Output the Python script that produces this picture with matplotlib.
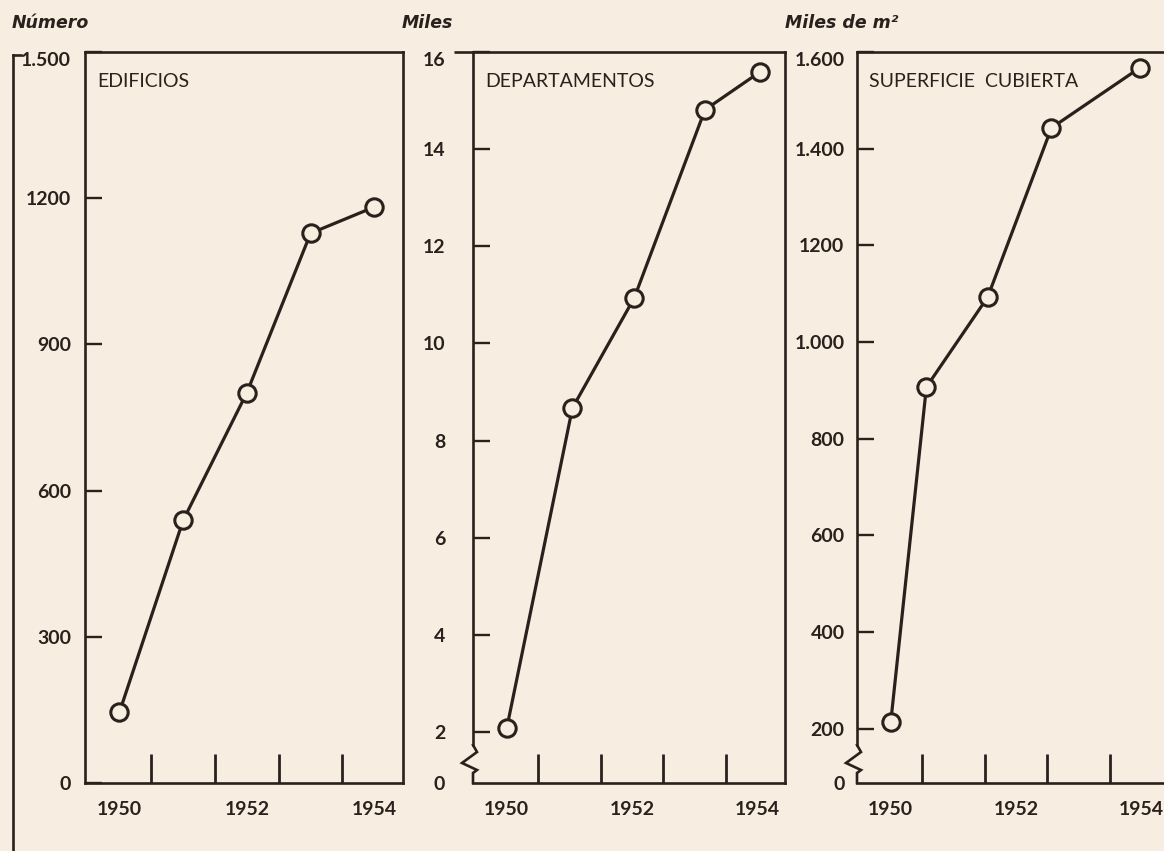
import matplotlib.pyplot as plt

# colours of the scanned page
BG = '#f7ede0'
INK = '#2a211d'

# values
years = [1950, 1952, 1954]
half_years = [1950.5, 1951.5, 1952.5, 1953.5]

edificios_x = [1950, 1951, 1952, 1953, 1954]
edificios = [145, 539, 801, 1128, 1182]
edificios_ticks = [0, 300, 600, 900, 1200, 1500]
edificios_labels = ['0', '300', '600', '900', '1200', '1.500']

deptos_x = [1950, 1951.05, 1952.04, 1953.17, 1954.05]
deptos = [2.08, 8.67, 10.94, 14.81, 15.59]
deptos_ticks = [0.95, 2, 4, 6, 8, 10, 12, 14, 16]
deptos_labels = ['0', '2', '4', '6', '8', '10', '12', '14', '16']

superficie_x = [1950, 1950.57, 1951.55, 1952.57, 1953.98]
superficie = [214, 907, 1093, 1443, 1567]
superficie_ticks = [88, 200, 400, 600, 800, 1000, 1200, 1400, 1600]
superficie_labels = ['0', '200', '400', '600', '800', '1.000', '1200', '1.400', '1.600']

W, H = 1164, 851
fig = plt.figure(figsize=(W / 100, H / 100), dpi=100, facecolor=BG)

# axes boxes in pixels: left, right (top 52, bottom 783)
boxes = [(85, 403), (473, 785), (857, 1169)]
top_px, bot_px = 52, 783


def make_axes(left, right):
    return fig.add_axes([left / W, 1 - bot_px / H, (right - left) / W, (bot_px - top_px) / H])


def style(ax, x, y, ticks, labels, ylim, title, ypad, top_tick=0.0, broken=False):
    ax.set_facecolor('none')
    ax.plot(x, y, color=INK, lw=2.3, marker='o', ms=12.5, mfc=BG, mec=INK, mew=2.2,
            solid_capstyle='round', zorder=3, clip_on=False)
    ax.set_xlim(1949.46, 1954.45)
    ax.set_ylim(*ylim)
    for s in ax.spines.values():
        s.set_color(INK)
        s.set_linewidth(1.9)
    ax.set_xticks(years)
    ax.set_xticklabels([str(v) for v in years])
    ax.set_xticks(half_years, minor=True)
    ax.tick_params(axis='x', which='major', length=0, pad=13, labelsize=14, colors=INK)
    ax.tick_params(axis='x', which='minor', direction='in', length=21, width=2.0, color=INK)
    ax.set_yticks(ticks)
    ax.set_yticklabels(labels)
    ax.tick_params(axis='y', which='major', direction='in', length=12, width=1.7,
                   pad=ypad, labelsize=14, colors=INK)
    for lab in ax.get_xticklabels() + ax.get_yticklabels():
        lab.set_fontfamily('Lato')
        lab.set_fontweight('bold')
    # the top value sits a little below the frame line
    top_lab = ax.get_yticklabels()[-1]
    top_lab.set_va('top')
    ax.text(0.04, 0.959, title, transform=ax.transAxes, ha='left', va='center',
            fontsize=14, family='Lato', color=INK)
    if top_tick:
        ax.plot([-top_tick, 0], [1, 1], transform=ax.transAxes, color=INK, lw=1.9,
                clip_on=False, solid_capstyle='butt')

    if broken:
        w = (ax.get_position().width * W)
        h = (bot_px - top_px)
        lo, hi = ylim
        ax.spines['left'].set_bounds(lo + (hi - lo) * 38 / h, hi)
        pts = [(0, 38), (4, 31), (-11, 20), (4, 13), (0, 10), (0, 0)]
        ax.plot([p[0] / w for p in pts], [p[1] / h for p in pts], transform=ax.transAxes,
                color=INK, lw=1.9, clip_on=False, solid_joinstyle='miter')
        ax.yaxis.get_major_ticks()[0].tick1line.set_visible(False)


ax1 = make_axes(*boxes[0])
style(ax1, edificios_x, edificios, edificios_ticks, edificios_labels, (0, 1500), 'EDIFICIOS', 10)

ax2 = make_axes(*boxes[1])
style(ax2, deptos_x, deptos, deptos_ticks, deptos_labels, (0.95, 16), 'DEPARTAMENTOS', 20,
      top_tick=0.06, broken=True)

ax3 = make_axes(*boxes[2])
style(ax3, superficie_x, superficie, superficie_ticks, superficie_labels, (88, 1600),
      'SUPERFICIE  CUBIERTA', 9, broken=True)

# unit labels above each scale
units = [('Número', 12), ('Miles', 402), ('Miles de m²', 785)]
for txt, xpx in units:
    fig.text(xpx / W, 1 - 23 / H, txt, ha='left', va='center', fontsize=12.5,
             family='DejaVu Sans', weight='bold', style='italic', color=INK)

# bracket running down the left edge of the page
fig.add_artist(plt.Line2D([13 / W, 13 / W], [1 - 55 / H, 0], transform=fig.transFigure,
                          color=INK, lw=1.9))
fig.add_artist(plt.Line2D([13 / W, 21 / W], [1 - 55 / H, 1 - 55 / H], transform=fig.transFigure,
                          color=INK, lw=1.9))

fig.savefig('out.png', dpi=100, facecolor=BG)
